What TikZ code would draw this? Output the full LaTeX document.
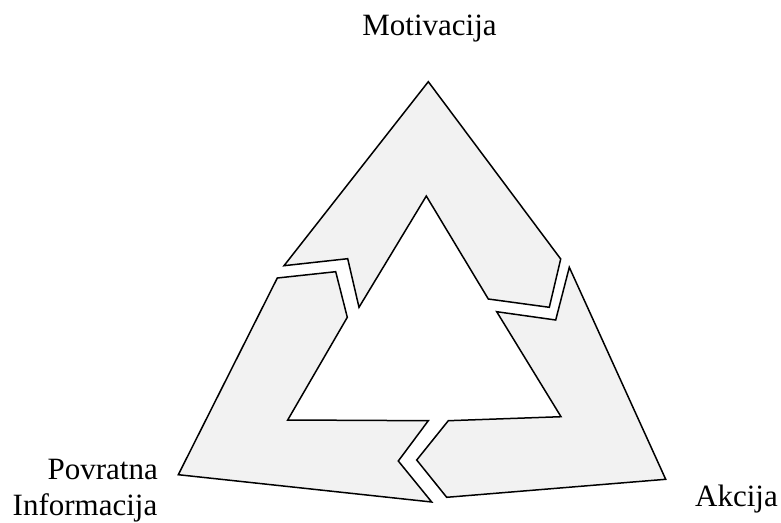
\documentclass[tikz,border=0pt]{standalone}
\usepackage{fontspec}
\setmainfont{Liberation Serif}
\definecolor{arrowfill}{HTML}{F2F2F2}
\begin{document}
\begin{tikzpicture}[x=1pt,y=-1pt,
  arrowshape/.style={draw=black,fill=arrowfill,line width=1.5pt,line join=miter},
  lbl/.style={font=\fontsize{31}{36}\selectfont,inner sep=0pt}]
\useasboundingbox (0,0) rectangle (781,522);
% top arrow
\draw[arrowshape] (428.3,81.7) -- (560.7,259) -- (549.3,307.3) -- (488.3,299)
  -- (426.3,196) -- (359,307.3) -- (347.7,258.7) -- (284,265.7) -- cycle;
% left arrow
\draw[arrowshape] (277.3,278) -- (335.7,271.7) -- (347.3,317.3) -- (287.7,420)
  -- (428.3,420.7) -- (398.3,461) -- (431.7,502) -- (178.3,474.7) -- cycle;
% right arrow
\draw[arrowshape] (569.3,267.3) -- (665.7,479.3) -- (446.7,497.3) -- (416.7,460)
  -- (448.3,420.7) -- (561,416.7) -- (496.7,311.7) -- (555.7,320) -- cycle;
\node[lbl,anchor=base] (mot) at (429.5,35) {Motivacija};
\node[lbl,anchor=base east] (pov) at (158,479) {Povratna};
\node[lbl,anchor=base east] (inf) at (157.5,515) {Informacija};
\node[lbl,anchor=base west] (akc) at (695,506) {Akcija};
\end{tikzpicture}
\end{document}
